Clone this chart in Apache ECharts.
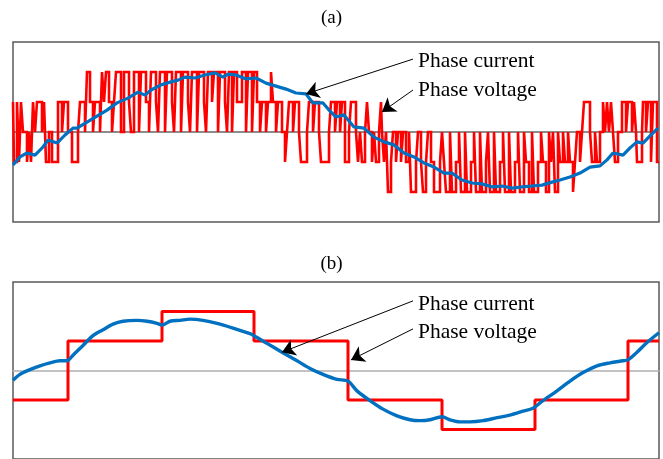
<!DOCTYPE html>
<html>
<head>
<meta charset="utf-8">
<script src="https://cdn.jsdelivr.net/npm/echarts@6/dist/echarts.min.js"></script>
<style>
html,body{margin:0;padding:0;background:#fff;}
#chart{width:663px;height:459px;}
</style>
</head>
<body>
<div id="chart"></div>
<script>
// ---------- Data (x in time samples, y in units of Vdc/3 / scaled current) ----------
// (a) PWM phase voltage: level holds from pwmX[i] until pwmX[i+1]
const pwmX = [
  0,1,4,6,8,10,14,16,18,20,22,24,29,31,33,36,39,45,49,51,55,59,65,67,72,74,77,80,82,87,89,91,93,96,99,
  101,103,108,111,116,118,121,126,128,133,136,138,143,145,147,152,154,159,161,163,168,170,175,177,179,184,186,191,193,195,199,201,205,207,212,214,
  216,219,221,224,229,233,235,239,241,244,247,249,253,255,258,260,263,265,269,272,274,276,280,282,286,288,294,296,300,302,306,308,316,318,
  322,324,327,329,332,336,338,343,345,347,349,352,354,356,359,361,363,366,368,369,371,373,375,378,380,383,385,388,390,393,396,398,403,405,408,410,413,415,418,421,427,
  429,431,433,437,439,443,446,448,452,454,458,461,463,467,469,473,475,477,481,483,487,490,492,496,498,502,505,507,511,513,516,519,521,525,528,530,533,536,
  538,540,542,545,547,550,552,555,557,560,562,564,567,569,571,577,579,582,584,587,590,592,594,596,598,600,602,605,609,613,615,619,621,623,624,629,630,633,635,638,640,644,646
];
const pwmLevel = [
  1,-1,1,-1,1,0,-1,0,-1,1,0,1,0,1,-1,0,-1,1,0,1,0,-1,0,1,0,2,1,0,1,0,2,1,2,1,0,
  1,2,0,2,1,0,2,0,2,1,0,2,1,0,2,0,2,1,0,2,0,2,1,0,2,0,2,1,0,2,1,2,0,2,1,0,
  2,0,2,1,2,0,2,0,2,1,0,1,0,1,2,1,0,1,0,-1,0,1,0,1,0,-1,0,1,0,1,0,-1,0,1,
  0,1,0,1,-1,0,1,0,-1,0,-1,0,1,0,-1,0,-1,0,1,0,-1,0,-2,-1,0,-1,0,-1,0,-1,0,-2,-1,0,-1,-2,-1,0,-1,-2,-1,
  0,-1,-2,0,-2,-1,0,-2,0,-2,-1,0,-2,0,-2,-1,0,-2,0,-2,-1,0,-2,0,-2,-1,0,-2,0,-1,-2,0,-2,-1,0,-1,-2,0,
  -1,0,-2,0,-1,0,-1,0,-1,-2,-1,0,-1,0,1,0,-1,0,-1,0,1,0,1,0,1,0,-1,0,1,0,1,0,1,0,-1,0,1,0,1,-1,1,-1,-1
];
// (a) phase current
const curAX = [0,7,14,22,30,35,44,52,60,64,74,84,94,104,115,125,132,138,148,158,165,172,182,192,202,210,215,223,233,243,253,263,273,283,293,300,310,316,323,331,341,351,361,371,381,391,401,411,421,431,439,449,459,469,479,489,499,509,519,529,539,547,557,567,577,587,594,600,610,617,624,630,637,645];
const curAY = [-1.1,-0.83,-0.7,-0.77,-0.5,-0.27,-0.37,-0.1,0.13,0.13,0.33,0.53,0.73,0.97,1.13,1.33,1.23,1.4,1.57,1.67,1.73,1.83,1.8,1.9,1.97,1.83,1.93,1.9,1.77,1.8,1.63,1.53,1.43,1.3,1.27,0.97,0.97,0.73,0.5,0.57,0.17,0.13,-0.17,-0.33,-0.43,-0.7,-0.83,-1.03,-1.17,-1.37,-1.37,-1.6,-1.7,-1.73,-1.83,-1.8,-1.87,-1.83,-1.8,-1.77,-1.67,-1.6,-1.5,-1.37,-1.17,-1.13,-0.93,-0.7,-0.77,-0.53,-0.33,-0.37,-0.13,0.13];
// (b) six-step phase voltage
const stepX = [0,55,149,241,335,429,522,615,646];
const stepLevel = [-1,1,2,1,-1,-2,-1,1,1];
// (b) phase current
const curBX = [0,7,17,27,37,47,54,60,70,80,90,100,110,124,134,144,149,157,167,177,190,204,220,237,241,254,269,284,297,310,324,335,344,357,370,384,397,407,417,429,437,447,457,470,484,497,510,520,530,544,557,570,584,597,610,615,624,634,646];
const curBY = [-0.33,-0.13,0.03,0.16,0.26,0.33,0.33,0.52,0.85,1.18,1.38,1.57,1.67,1.7,1.67,1.6,1.54,1.67,1.7,1.74,1.7,1.6,1.44,1.25,1.18,0.92,0.62,0.33,0.07,-0.13,-0.3,-0.36,-0.69,-1.02,-1.31,-1.54,-1.67,-1.7,-1.67,-1.57,-1.67,-1.74,-1.74,-1.7,-1.6,-1.51,-1.38,-1.28,-1.02,-0.69,-0.36,-0.07,0.16,0.26,0.33,0.36,0.62,0.95,1.28];
const titles = ['(a)', '(b)'];
const labelCurrent = 'Phase current';
const labelVoltage = 'Phase voltage';

// ---------- Chart ----------
const zip = (xs, ys) => xs.map((x, i) => [x, ys[i]]);
const serif = '"Liberation Serif","Times New Roman",serif';
const RED = '#ff0000', BLUE = '#0070c0';

function arrowLine(from, to) {
  return [{coord: from}, {coord: to}];
}

const chart = echarts.init(document.getElementById('chart'), null, {renderer: 'canvas'});
chart.setOption({
  animation: false,
  backgroundColor: '#ffffff',
  grid: [
    {left: 13, top: 42, width: 646, height: 180, show: true, borderColor: '#595959', borderWidth: 1.5, containLabel: false},
    {left: 13, top: 282, width: 646, height: 184, show: true, borderColor: '#595959', borderWidth: 1.5, containLabel: false}
  ],
  xAxis: [0, 1].map(i => ({
    type: 'value', gridIndex: i, min: 0, max: 646,
    axisLine: {show: true, onZero: true, lineStyle: {color: i === 0 ? '#8c8c8c' : '#b0b0b0', width: i === 0 ? 2 : 1.5}},
    axisTick: {show: false}, axisLabel: {show: false}, splitLine: {show: false}
  })),
  yAxis: [0, 1].map(i => ({
    type: 'value', gridIndex: i, min: -3, max: 3,
    axisLine: {show: false}, axisTick: {show: false}, axisLabel: {show: false}, splitLine: {show: false}
  })),
  series: [
    {
      type: 'line', xAxisIndex: 0, yAxisIndex: 0, step: 'end', showSymbol: false, symbol: 'none',
      data: zip(pwmX, pwmLevel), lineStyle: {color: RED, width: 2.6, join: 'miter'}, z: 2
    },
    {
      type: 'line', xAxisIndex: 0, yAxisIndex: 0, showSymbol: false, symbol: 'none',
      data: zip(curAX, curAY), lineStyle: {color: BLUE, width: 3.2}, z: 3,
      markLine: {
        silent: true, symbol: ['none', 'arrow'], symbolSize: 13, animation: false,
        lineStyle: {color: '#000', width: 1, type: 'solid'}, label: {show: false},
        data: [arrowLine([400, 2.43], [293, 1.27]), arrowLine([400, 1.4], [369, 0.67])]
      }
    },
    {
      type: 'line', xAxisIndex: 1, yAxisIndex: 1, step: 'end', showSymbol: false, symbol: 'none',
      data: zip(stepX, stepLevel), lineStyle: {color: RED, width: 3}, z: 2
    },
    {
      type: 'line', xAxisIndex: 1, yAxisIndex: 1, showSymbol: false, symbol: 'none', smooth: 0.3,
      data: zip(curBX, curBY), lineStyle: {color: BLUE, width: 3.4}, z: 3,
      markLine: {
        silent: true, symbol: ['none', 'arrow'], symbolSize: 13, animation: false,
        lineStyle: {color: '#000', width: 1, type: 'solid'}, label: {show: false},
        data: [arrowLine([400, 2.36], [269, 0.62]), arrowLine([400, 1.41], [338, 0.36])]
      }
    }
  ],
  graphic: [
    {type: 'text', left: 'center', top: 9, style: {text: titles[0], font: '19px ' + serif, fill: '#000'}},
    {type: 'text', left: 'center', top: 255, style: {text: titles[1], font: '19px ' + serif, fill: '#000'}},
    {type: 'text', x: 418, y: 61, style: {text: labelCurrent, font: '21.5px ' + serif, fill: '#000', verticalAlign: 'middle'}},
    {type: 'text', x: 418, y: 90, style: {text: labelVoltage, font: '21.5px ' + serif, fill: '#000', verticalAlign: 'middle'}},
    {type: 'text', x: 418, y: 304, style: {text: labelCurrent, font: '21.5px ' + serif, fill: '#000', verticalAlign: 'middle'}},
    {type: 'text', x: 418, y: 332, style: {text: labelVoltage, font: '21.5px ' + serif, fill: '#000', verticalAlign: 'middle'}}
  ]
});
</script>
</body>
</html>
